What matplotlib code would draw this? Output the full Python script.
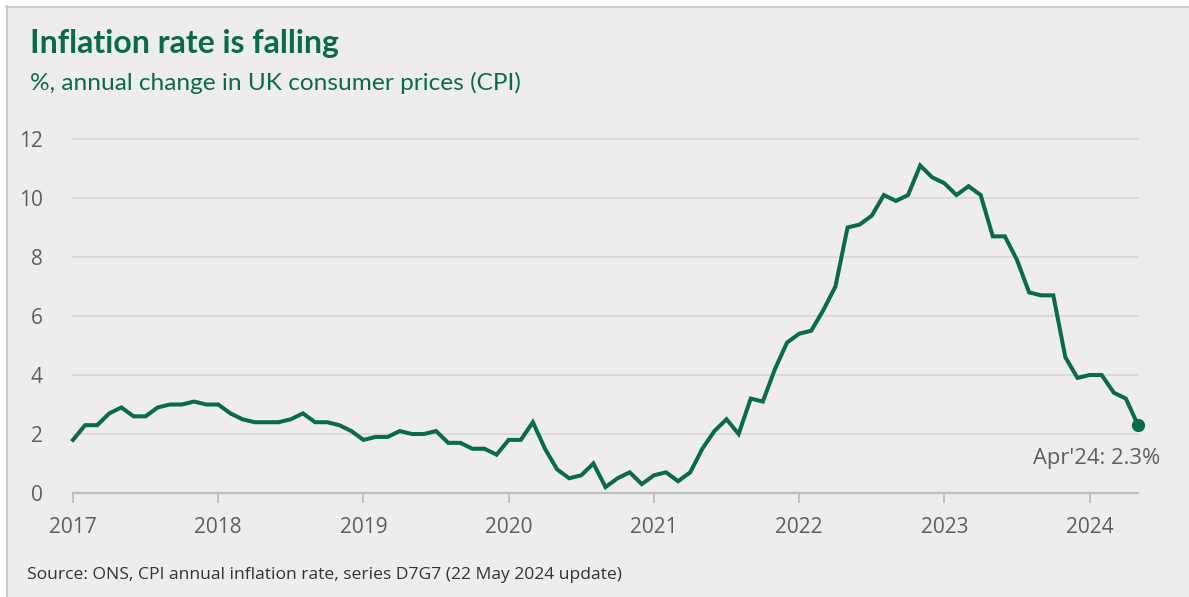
import matplotlib.pyplot as plt
from matplotlib.patches import Rectangle

# CPI annual rate, monthly points (Jan 2017 onwards)
cpi_2017 = [1.8, 2.3, 2.3, 2.7, 2.9, 2.6, 2.6, 2.9, 3.0, 3.0, 3.1, 3.0]
cpi_2018 = [3.0, 2.7, 2.5, 2.4, 2.4, 2.4, 2.5, 2.7, 2.4, 2.4, 2.3, 2.1]
cpi_2019 = [1.8, 1.9, 1.9, 2.1, 2.0, 2.0, 2.1, 1.7, 1.7, 1.5, 1.5, 1.3]
cpi_2020 = [1.8, 1.8, 2.4, 1.5, 0.8, 0.5, 0.6, 1.0, 0.2, 0.5, 0.7, 0.3]
cpi_2021 = [0.6, 0.7, 0.4, 0.7, 1.5, 2.1, 2.5, 2.0, 3.2, 3.1, 4.2, 5.1]
cpi_2022 = [5.4, 5.5, 6.2, 7.0, 9.0, 9.1, 9.4, 10.1, 9.9, 10.1, 11.1, 10.7]
cpi_2023 = [10.5, 10.1, 10.4, 10.1, 8.7, 8.7, 7.9, 6.8, 6.7, 6.7, 4.6, 3.9]
cpi_2024 = [4.0, 4.0, 3.4, 3.2, 2.3]

year_ticks = [2017, 2018, 2019, 2020, 2021, 2022, 2023, 2024]
y_ticks = [0, 2, 4, 6, 8, 10, 12]
last_label = "Apr'24: 2.3%"

cpi = cpi_2017 + cpi_2018 + cpi_2019 + cpi_2020 + cpi_2021 + cpi_2022 + cpi_2023 + cpi_2024
x = [2017 + i / 12 for i in range(len(cpi))]

GREEN = "#0a6b48"
GREY_TXT = "#5e5e5e"
BG = "#efedeb"

W, H = 1189, 597
fig = plt.figure(figsize=(W / 100, H / 100), dpi=100)
fig.patch.set_facecolor("white")

# card background with thin border on top/left
fig.patches.append(Rectangle((7 / W, 0), 1, 1 - 7 / H, transform=fig.transFigure,
                             facecolor=BG, edgecolor="none", zorder=0))
fig.add_artist(plt.Line2D([6 / W, 1], [1 - 6.5 / H] * 2, transform=fig.transFigure,
                          color="#c4c4c4", lw=1.2))
fig.add_artist(plt.Line2D([6.5 / W] * 2, [0, 1 - 6 / H], transform=fig.transFigure,
                          color="#c4c4c4", lw=1.2))

left, right = 73 / W, 1138 / W
bottom, top = 1 - 493 / H, 1 - 139 / H
ax = fig.add_axes([left, bottom, right - left, top - bottom])
ax.set_facecolor("none")
ax.set_zorder(5)

ax.plot(x, cpi, color=GREEN, lw=2.9, solid_joinstyle="miter", clip_on=False, zorder=3)
ax.plot(x[-1], cpi[-1], "o", color=GREEN, ms=8.5, clip_on=False, zorder=4)

ax.set_xlim(x[0], x[-1])
ax.set_ylim(0, 12)
ax.set_yticks(y_ticks)
ax.set_xticks(year_ticks)
ax.set_xticklabels([str(y) for y in year_ticks])

for v in y_ticks[1:]:
    ax.axhline(v, color="#dcdad8", lw=1.4, zorder=1, clip_on=False)

for s in ["top", "right", "left"]:
    ax.spines[s].set_visible(False)
ax.spines["bottom"].set_color("#bdbdbd")
ax.spines["bottom"].set_linewidth(1.6)

ax.tick_params(axis="y", length=0, pad=22, labelsize=15, labelcolor=GREY_TXT)
ax.tick_params(axis="x", length=7, width=1.3, color="#bdbdbd", direction="out",
               pad=10, labelsize=15, labelcolor=GREY_TXT)
for lab in ax.get_xticklabels() + ax.get_yticklabels():
    lab.set_fontfamily("Open Sans")

ax.annotate(last_label, (x[-1], cpi[-1]), xytext=(16, -24), textcoords="offset points",
            ha="right", va="center", fontsize=15.8, color=GREY_TXT, family="Open Sans")

fig.text(30 / W, 1 - 43 / H, "Inflation rate is falling", fontsize=23,
         fontweight="bold", color=GREEN, family="Lato", va="center")
fig.text(30 / W, 1 - 83 / H, "%, annual change in UK consumer prices (CPI)",
         fontsize=17.6, color=GREEN, family="Lato", va="center")
fig.text(27 / W, 1 - 575 / H,
         "Source: ONS, CPI annual inflation rate, series D7G7 (22 May 2024 update)",
         fontsize=12.6, color="#333333", family="Open Sans", va="center")

fig.savefig("out.png", dpi=100, facecolor=fig.get_facecolor())
